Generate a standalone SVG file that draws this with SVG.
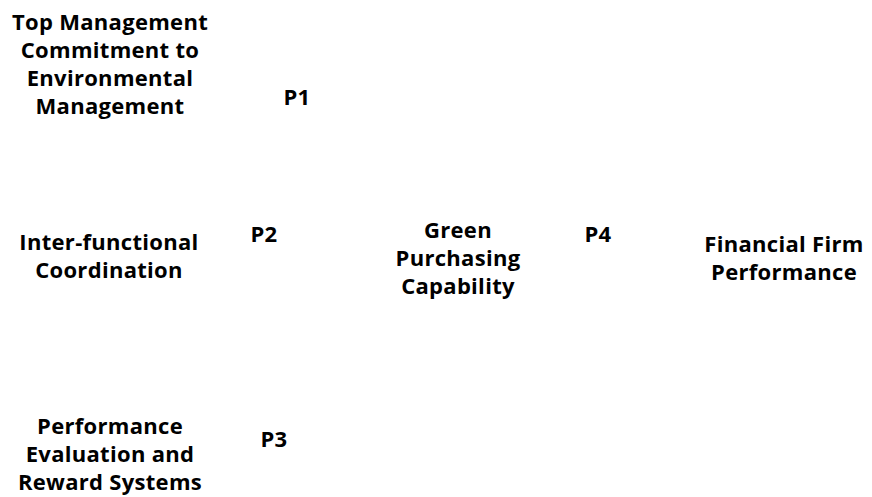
<svg xmlns="http://www.w3.org/2000/svg" width="872" height="497" viewBox="0 0 872 497">
<style>
text{font-family:"Open Sans","Noto Sans","DejaVu Sans",sans-serif;font-weight:bold;font-size:22px;letter-spacing:0.3px;fill:#000;text-anchor:middle}
</style>
<rect width="872" height="497" fill="#fff"/>
<g id="top-management">
<text x="110" y="30">Top Management</text>
<text x="110" y="58">Commitment to</text>
<text x="110" y="86">Environmental</text>
<text x="110" y="114">Management</text>
</g>
<g id="inter-functional">
<text x="109" y="250">Inter-functional</text>
<text x="109" y="278">Coordination</text>
</g>
<g id="performance-evaluation">
<text x="110" y="434">Performance</text>
<text x="110" y="462">Evaluation and</text>
<text x="110" y="490">Reward Systems</text>
</g>
<g id="green-purchasing">
<text x="458" y="238">Green</text>
<text x="458" y="266">Purchasing</text>
<text x="458" y="294">Capability</text>
</g>
<g id="financial-performance">
<text x="784" y="252">Financial Firm</text>
<text x="784" y="280">Performance</text>
</g>
<g id="labels">
<text x="297" y="105">P1</text>
<text x="264" y="242">P2</text>
<text x="274" y="447">P3</text>
<text x="598" y="242">P4</text>
</g>
<g id="connectors"></g>
</svg>
